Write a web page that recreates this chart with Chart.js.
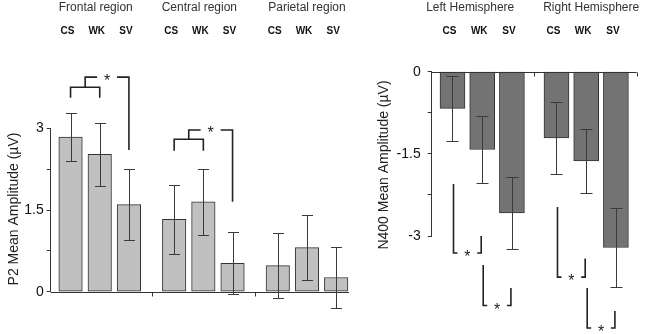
<!DOCTYPE html>
<html>
<head>
<meta charset="utf-8">
<script src="https://cdn.jsdelivr.net/npm/chart.js@4.4.1/dist/chart.umd.min.js"></script>
<style>
  body { margin: 0; background: #fff; }
  #wrap { position: relative; width: 645px; height: 334px; }
  .box { position: absolute; top: 0; }
</style>
</head>
<body>
<div id="wrap">
  <div class="box" style="left:0"><canvas id="p2Chart" width="365" height="334"></canvas></div>
  <div class="box" style="left:375px"><canvas id="n400Chart" width="270" height="334"></canvas></div>
</div>
<script>
// P2 panel data (three regions x three conditions)
const p2Regions = ['Frontal region', 'Central region', 'Parietal region'];
const conditions = ['CS', 'WK', 'SV'];
const p2Means = [2.84, 2.52, 1.60, 1.33, 1.65, 0.52, 0.48, 0.81, 0.26];
const p2Errors = [0.44, 0.58, 0.65, 0.63, 0.60, 0.57, 0.60, 0.59, 0.56];
const p2TickLabels = [0, 1.5, 3];

// N400 panel data (two hemispheres x three conditions)
const n400Hemispheres = ['Left Hemisphere', 'Right Hemisphere'];
const n400Means = [-0.67, -1.42, -2.58, -1.21, -1.63, -3.21];
const n400Errors = [0.60, 0.62, 0.66, 0.65, 0.59, 0.73];
const n400TickLabels = [0, -1.5, -3];

const FONT = 'Arial, "Liberation Sans", sans-serif';

function line(ctx, x1, y1, x2, y2) {
  ctx.beginPath();
  ctx.moveTo(x1, y1);
  ctx.lineTo(x2, y2);
  ctx.stroke();
}
const px = v => Math.round(v) + 0.5;

function extrasPlugin(cfg) {
  return {
    id: 'extras',
    afterDraw(chart) {
      const ctx = chart.ctx, xs = chart.scales.x, ys = chart.scales.y, area = chart.chartArea;
      const bars = chart.getDatasetMeta(0).data;
      ctx.save();

      // zero line + group separator ticks
      ctx.strokeStyle = '#333';
      ctx.lineWidth = 1;
      const y0 = px(ys.getPixelForValue(0));
      line(ctx, area.left, y0, area.right, y0);
      cfg.sepTicks.forEach(v => {
        const x = px(xs.getPixelForValue(v));
        line(ctx, x, y0, x, y0 + 4);
      });

      // error bars
      ctx.strokeStyle = '#3a3a3a';
      cfg.means.forEach((m, i) => {
        const x = px(bars[i].x);
        const top = px(ys.getPixelForValue(m + cfg.errors[i]));
        const bot = px(ys.getPixelForValue(m - cfg.errors[i]));
        line(ctx, x, top, x, bot);
        line(ctx, x - cfg.cap, top, x + cfg.cap, top);
        line(ctx, x - cfg.cap, bot, x + cfg.cap, bot);
      });

      // group names and condition labels on top
      ctx.fillStyle = '#333';
      ctx.textAlign = 'center';
      ctx.textBaseline = 'middle';
      ctx.font = '12px ' + FONT;
      cfg.groups.forEach((g, gi) => {
        const x = bars[gi * 3 + 1].x + cfg.groupOffsets[gi];
        ctx.fillText(g, x, 8);
      });
      ctx.fillStyle = '#111';
      ctx.font = 'bold 10px ' + FONT;
      bars.forEach((b, i) => ctx.fillText(conditions[i % 3], b.x - 3, 31));

      // y axis title
      ctx.fillStyle = '#222';
      ctx.font = '14px ' + FONT;
      ctx.save();
      ctx.translate(cfg.titlePos[0], cfg.titlePos[1]);
      ctx.rotate(-Math.PI / 2);
      ctx.fillText(cfg.title, 0, 0);
      ctx.restore();

      // significance brackets
      ctx.strokeStyle = '#222';
      ctx.lineWidth = 1.6;
      ctx.fillStyle = '#222';
      ctx.font = '16px ' + FONT;
      ctx.textBaseline = 'alphabetic';
      cfg.brackets.forEach(br => {
        const Y = v => ys.getPixelForValue(v);
        if (br.c !== undefined) {
          const xa = bars[br.a].x, xb = bars[br.b].x, xc = bars[br.c].x;
          const mid = (xa + xb) / 2, star = (mid + xc) / 2;
          ctx.beginPath();
          ctx.moveTo(xa, Y(br.feet));
          ctx.lineTo(xa, Y(br.bar));
          ctx.lineTo(xb, Y(br.bar));
          ctx.lineTo(xb, Y(br.feet));
          ctx.moveTo(mid, Y(br.bar));
          ctx.lineTo(mid, Y(br.top));
          ctx.lineTo(star - 10, Y(br.top));
          ctx.moveTo(star + 10, Y(br.top));
          ctx.lineTo(xc, Y(br.top));
          ctx.lineTo(xc, Y(br.end));
          ctx.stroke();
          ctx.fillText('*', star, Y(br.top) + 8.5);
        } else {
          const xa = bars[br.a].x + 1, xb = bars[br.b].x - 1;
          const yb = Y(br.bottom);
          ctx.beginPath();
          ctx.moveTo(xa, Y(br.topA));
          ctx.lineTo(xa, yb);
          ctx.lineTo(xa + 4, yb);
          ctx.moveTo(xb - 4, yb);
          ctx.lineTo(xb, yb);
          ctx.lineTo(xb, Y(br.topB));
          ctx.stroke();
          ctx.fillText('*', (xa + xb) / 2, yb + 9);
        }
      });
      ctx.restore();
    }
  };
}

function makeChart(id, cfg) {
  const pos = cfg.means.map((v, i) => Math.floor(i / 3) * cfg.gap + i % 3);
  return new Chart(document.getElementById(id), {
    type: 'bar',
    data: {
      datasets: [{
        data: cfg.means.map((v, i) => ({ x: pos[i], y: v })),
        backgroundColor: cfg.fill,
        borderColor: '#333',
        borderWidth: 1,
        borderSkipped: false,
        barThickness: cfg.barWidth,
        clip: false
      }]
    },
    options: {
      responsive: false,
      animation: false,
      events: [],
      layout: { padding: cfg.padding },
      plugins: { legend: { display: false }, tooltip: { enabled: false } },
      scales: {
        x: { type: 'linear', display: false, offset: false, min: cfg.xMin, max: cfg.xMax },
        y: {
          min: cfg.yMin,
          max: cfg.yMax,
          afterFit: s => { s.width = cfg.axisWidth; },
          ticks: {
            stepSize: 0.75,
            padding: cfg.tickPad,
            color: '#111',
            font: { family: FONT, size: 14 },
            callback: v => cfg.tickLabels.includes(v) ? String(v) : ''
          },
          grid: { drawOnChartArea: false, tickLength: 4, color: '#333' },
          border: { color: '#333' }
        }
      }
    },
    plugins: [extrasPlugin(cfg)]
  });
}

makeChart('p2Chart', {
  means: p2Means, errors: p2Errors, tickLabels: p2TickLabels, groups: p2Regions,
  groupOffsets: [-4, -4, 0],
  title: 'P2 Mean Amplitude (\u00b5V)', titlePos: [14, 209],
  fill: '#c0c0c0', barWidth: 23.5, cap: 5.5, gap: 3.55,
  xMin: -0.68, xMax: 9.54, yMin: 0, yMax: 3,
  padding: { top: 128.3, bottom: 42.3, left: 0, right: 16 },
  axisWidth: 50.7, tickPad: 3,
  sepTicks: [2.78, 6.33],
  brackets: [
    { a: 0, b: 1, c: 2, feet: 3.56, bar: 3.755, top: 3.94, end: 2.60 },
    { a: 3, b: 4, c: 5, feet: 2.59, bar: 2.80, top: 2.97, end: 1.65 }
  ]
});

makeChart('n400Chart', {
  means: n400Means, errors: n400Errors, tickLabels: n400TickLabels, groups: n400Hemispheres,
  groupOffsets: [-12, 5],
  title: 'N400 Mean Amplitude (\u00b5V)', titlePos: [9, 165],
  fill: '#737373', barWidth: 25, cap: 6, gap: 3.5,
  xMin: -0.70, xMax: 6.20, yMin: -3, yMax: 0,
  padding: { top: 71.7, bottom: 98, left: 0, right: 8.3 },
  axisWidth: 56.7, tickPad: 7,
  sepTicks: [2.75, 6.2],
  brackets: [
    { a: 0, b: 1, topA: -2.05, topB: -3.0, bottom: -3.31 },
    { a: 1, b: 2, topA: -3.53, topB: -3.95, bottom: -4.27 },
    { a: 3, b: 4, topA: -2.47, topB: -3.41, bottom: -3.75 },
    { a: 4, b: 5, topA: -3.95, topB: -4.37, bottom: -4.68 }
  ]
});
</script>
</body>
</html>
